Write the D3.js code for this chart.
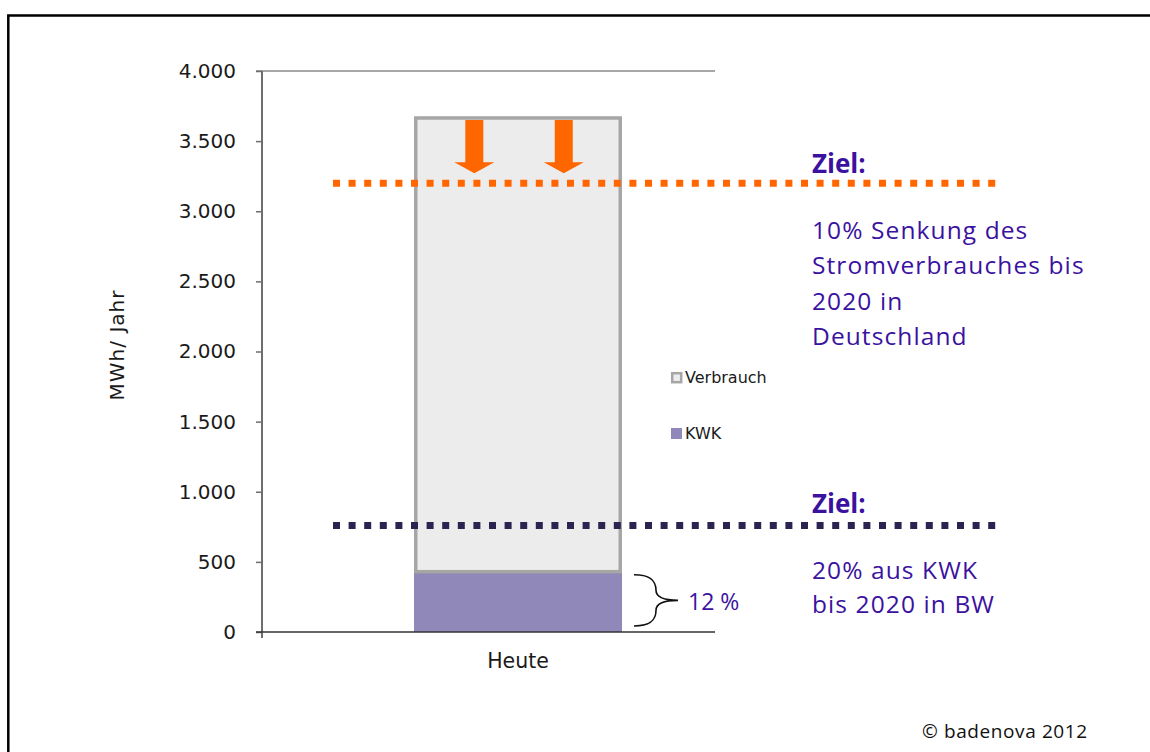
<!DOCTYPE html>
<html>
<head>
<meta charset="utf-8">
<script src="https://cdn.jsdelivr.net/npm/d3@7"></script>
<style>
  html, body { margin: 0; padding: 0; background: #fff; }
  svg { display: block; }
</style>
</head>
<body>
<svg id="chart" width="1150" height="752"></svg>
<script>
// ---------- data ----------
const categories = ["Heute"];
const kwkValues = [430];          // KWK share (bottom segment)
const verbrauchValues = [3235];   // remaining consumption stacked on top (total ≈ 3665)
const yTicks = [0, 500, 1000, 1500, 2000, 2500, 3000, 3500, 4000];
const targetValues = [3200, 760];
const targetColors = ["#ff6600", "#2c2350"];
const seriesNames = ["Verbrauch", "KWK"];
const arrowPositions = [0.29, 0.72]; // fractional positions inside the bar band
const zielTitle = "Ziel:";
const zielTexts1 = ["10% Senkung des", "Stromverbrauches bis", "2020 in", "Deutschland"];
const zielTexts2 = ["20% aus KWK", "bis 2020 in BW"];
const shareLabel = "12 %";
const yLabel = "MWh/ Jahr";
const copyright = "© badenova 2012";

// ---------- setup ----------
const svg = d3.select("#chart");
const purple = "#3b12a0";
const axisFont = "'DejaVu Sans', Verdana, sans-serif";
const textFont = "'Open Sans', 'Noto Sans', sans-serif";

const y = d3.scaleLinear().domain([0, 4000]).range([632, 71]);
const x = d3.scaleBand().domain(categories).range([414, 622]).padding(0);

const de = d3.formatLocale({decimal: ",", thousands: ".", grouping: [3], currency: ["", " €"]});
const fmt = de.format(",d");

// frame
svg.append("path")
  .attr("d", "M8.3,752 V15.5 H1150")
  .attr("fill", "none").attr("stroke", "#000").attr("stroke-width", 2.5);

// top gridline at max
svg.append("line")
  .attr("x1", 256).attr("x2", 715)
  .attr("y1", y(4000)).attr("y2", y(4000))
  .attr("stroke", "#8a8a8a").attr("stroke-width", 1.5);

// y axis
const yAxis = svg.append("g")
  .attr("transform", "translate(262,0)")
  .call(d3.axisLeft(y).tickValues(yTicks).tickFormat(fmt).tickSize(6).tickPadding(20));
yAxis.select(".domain").attr("stroke", "#6e6e6e").attr("stroke-width", 2)
  .attr("d", `M0,${y(4000)}V${y(0) + 6}`);
yAxis.selectAll(".tick line").attr("stroke", "#6e6e6e").attr("stroke-width", 1.5);
yAxis.selectAll(".tick text")
  .attr("font-family", axisFont).attr("font-size", 20).attr("fill", "#1a1a1a");

// bars
const kwkG = svg.append("g");
kwkG.selectAll("rect").data(categories).join("rect")
  .attr("x", d => x(d))
  .attr("width", x.bandwidth())
  .attr("y", (d, i) => y(kwkValues[i]))
  .attr("height", (d, i) => y(0) - y(kwkValues[i]))
  .attr("fill", "#8f88b8");

const sw = 3.5;
svg.append("g").selectAll("rect").data(categories).join("rect")
  .attr("x", d => x(d) + sw / 2)
  .attr("width", x.bandwidth() - sw)
  .attr("y", (d, i) => y(kwkValues[i] + verbrauchValues[i]))
  .attr("height", (d, i) => y(kwkValues[i]) - y(kwkValues[i] + verbrauchValues[i]))
  .attr("fill", "#ececec").attr("stroke", "#a6a6a6").attr("stroke-width", sw);

// x axis line
svg.append("line")
  .attr("x1", 256).attr("x2", 715).attr("y1", y(0)).attr("y2", y(0))
  .attr("stroke", "#333").attr("stroke-width", 1.5);

svg.append("g").selectAll("text").data(categories).join("text")
  .attr("x", d => x(d) + x.bandwidth() / 2)
  .attr("y", 668)
  .attr("text-anchor", "middle")
  .attr("font-family", axisFont).attr("font-size", 20.5).attr("fill", "#1a1a1a")
  .text(d => d);

// y label
svg.append("text")
  .attr("transform", "translate(124,345) rotate(-90)")
  .attr("text-anchor", "middle")
  .attr("font-family", axisFont).attr("font-size", 20).attr("letter-spacing", 1)
  .attr("fill", "#1a1a1a")
  .text(yLabel);

// target dotted lines
svg.append("g").selectAll("line").data(targetValues).join("line")
  .attr("x1", 333).attr("x2", 1000)
  .attr("y1", d => y(d)).attr("y2", d => y(d))
  .attr("stroke", (d, i) => targetColors[i])
  .attr("stroke-width", 7)
  .attr("stroke-dasharray", "7,8.6");

// arrows
const total = kwkValues[0] + verbrauchValues[0];
const arrowTop = y(total) + 2;
const arrowTip = y(targetValues[0]) - 10;
const headH = 11, shaftW = 18, headW = 40;
svg.append("g").selectAll("path").data(arrowPositions).join("path")
  .attr("d", p => {
    const cx = x(categories[0]) + p * x.bandwidth();
    const hb = arrowTip - headH;
    return `M${cx - shaftW / 2},${arrowTop} H${cx + shaftW / 2} V${hb} H${cx + headW / 2} L${cx},${arrowTip} L${cx - headW / 2},${hb} H${cx - shaftW / 2} Z`;
  })
  .attr("fill", "#ff6600");

// legend
const legend = svg.append("g");
legend.append("rect").attr("x", 672.2).attr("y", 373.2).attr("width", 9).attr("height", 9)
  .attr("fill", "#ececec").attr("stroke", "#a6a6a6").attr("stroke-width", 2.5);
legend.append("rect").attr("x", 671).attr("y", 428).attr("width", 11).attr("height", 11)
  .attr("fill", "#8f88b8");
legend.selectAll("text").data(seriesNames).join("text")
  .attr("x", 685).attr("y", (d, i) => i === 0 ? 383 : 439)
  .attr("font-family", axisFont).attr("font-size", 16).attr("fill", "#1a1a1a")
  .text(d => d);

// brace
const kTop = y(kwkValues[0]) + 3, kBot = y(0) - 6;
const mid = (kTop + kBot) / 2;
svg.append("path")
  .attr("d", `M634,${kTop} C652,${kTop} 656,${kTop + 7} 656,${mid - 10} C656,${mid - 3} 664,${mid} 678,${mid}
              C664,${mid} 656,${mid + 3} 656,${mid + 10} C656,${kBot - 7} 652,${kBot} 634,${kBot}`)
  .attr("fill", "none").attr("stroke", "#111").attr("stroke-width", 1.6);

svg.append("text").attr("x", 688).attr("y", 610)
  .attr("font-family", textFont).attr("font-size", 23).attr("fill", purple)
  .text(shareLabel);

// Ziel texts
function zielBlock(titleY, lines, firstY, step) {
  svg.append("text").attr("x", 812).attr("y", titleY)
    .attr("font-family", textFont).attr("font-weight", 700).attr("font-size", 26)
    .attr("fill", purple).text(zielTitle);
  svg.append("g").selectAll("text").data(lines).join("text")
    .attr("x", 812).attr("y", (d, i) => firstY + i * step)
    .attr("font-family", textFont).attr("font-size", 24.5).attr("letter-spacing", 1.1)
    .attr("fill", purple).text(d => d);
}
zielBlock(173, zielTexts1, 239, 35.3);
zielBlock(513, zielTexts2, 579, 34);

// copyright
svg.append("text").attr("x", 922).attr("y", 738)
  .attr("font-family", textFont).attr("font-size", 19).attr("letter-spacing", 0.6)
  .attr("fill", "#111").text(copyright);
</script>
</body>
</html>
